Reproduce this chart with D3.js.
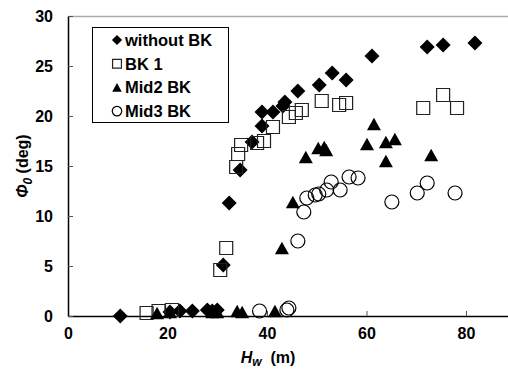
<!DOCTYPE html>
<html>
<head>
<meta charset="utf-8">
<script src="https://cdn.jsdelivr.net/npm/d3@7"></script>
<style>
  body { margin: 0; background: #fff; }
  text { font-family: "Liberation Sans", Arial, sans-serif; font-weight: bold; }
</style>
</head>
<body>
<div id="svgRoot"></div>
<script>
// series
var seriesNames = ["without BK", "BK 1", "Mid2 BK", "Mid3 BK"];

var withoutX = [10.5, 20.5, 22.5, 25, 28, 29, 30, 31.2, 32.4, 34.6, 37, 39, 39, 41.2, 43.2, 43.6, 46.2, 50.5, 53.1, 55.9, 61.1, 72.2, 75.4, 81.8];
var withoutY = [0, 0.4, 0.5, 0.5, 0.6, 0.5, 0.6, 5.1, 11.3, 14.6, 17.4, 19, 20.4, 20.4, 21, 21.4, 22.5, 23.1, 24.3, 23.6, 26, 26.9, 27.1, 27.3];

var bk1X = [15.8, 18.2, 20.9, 30.6, 31.8, 33.8, 34.2, 34.8, 38, 39.4, 41.2, 44.4, 45.8, 47, 51, 54.5, 55.9, 71.4, 75.4, 78.2];
var bk1Y = [0.3, 0.5, 0.6, 4.6, 6.8, 14.9, 16.2, 17.1, 17.3, 17.5, 18.9, 19.9, 20.3, 20.6, 21.5, 21.1, 21.3, 20.8, 22.1, 20.8];

var mid2X = [17.9, 20.5, 29, 30, 34, 35, 41.6, 43, 45.2, 47.8, 50.3, 51.5, 51.9, 60.1, 61.5, 63.9, 65.7, 63.9, 73];
var mid2Y = [0.3, 0.4, 0.4, 0.4, 0.5, 0.4, 0.5, 6.8, 11.4, 15.9, 16.8, 16.9, 16.6, 17.2, 19.2, 17.4, 17.7, 15.5, 16.1];

var mid3X = [38.5, 44, 44.4, 46.2, 47.4, 48, 49.7, 50.4, 52, 52.9, 54.7, 56.5, 58.3, 65.1, 70.2, 72.2, 77.8];
var mid3Y = [0.5, 0.6, 0.8, 7.5, 10.4, 11.8, 12.1, 12.2, 12.6, 13.4, 12.6, 13.9, 13.8, 11.4, 12.3, 13.3, 12.3];

var xTicks = [0, 20, 40, 60, 80];
var yTicks = [0, 5, 10, 15, 20, 25, 30];

var W = 508, H = 370;
var plotLeft = 68, plotTop = 16, plotBottom = 316;

var svg = d3.select("#svgRoot").append("svg")
  .attr("width", W).attr("height", H);

var x = d3.scaleLinear().domain([0, 90]).range([plotLeft, plotLeft + 90 * 4.975]);
var y = d3.scaleLinear().domain([0, 30]).range([plotBottom, plotTop]);

// marker shapes
function diamond(r) { return "M0," + (-r) + "L" + r + ",0L0," + r + "L" + (-r) + ",0Z"; }
function square(r) { return "M" + (-r) + "," + (-r) + "h" + 2 * r + "v" + 2 * r + "h" + (-2 * r) + "Z"; }
function triangle(r) { return "M0," + (-r * 0.9) + "L" + r + "," + r * 0.9 + "L" + (-r) + "," + r * 0.9 + "Z"; }

var styles = [
  { path: diamond, r: 7.5, fill: "#000", stroke: "none" },
  { path: square, r: 6.5, fill: "none", stroke: "#222" },
  { path: triangle, r: 7, fill: "#000", stroke: "none" },
  { path: null, r: 7, fill: "none", stroke: "#000" }
];

function drawMark(g, s, px, py, scale) {
  if (s.path) {
    g.append("path")
      .attr("d", s.path(s.r * scale))
      .attr("transform", "translate(" + px + "," + py + ")")
      .attr("fill", s.fill).attr("stroke", s.stroke).attr("stroke-width", 1.2);
  } else {
    g.append("circle")
      .attr("cx", px).attr("cy", py).attr("r", s.r * scale)
      .attr("fill", s.fill).attr("stroke", s.stroke).attr("stroke-width", 1.2);
  }
}

// frame: top line gray, axes black
svg.append("line")
  .attr("x1", plotLeft).attr("x2", W).attr("y1", plotTop + 0.5).attr("y2", plotTop + 0.5)
  .attr("stroke", "#aaa").attr("stroke-width", 1.5);

var xAxis = svg.append("g")
  .attr("transform", "translate(0," + plotBottom + ")")
  .call(d3.axisBottom(x).tickValues(xTicks).tickSize(-5).tickSizeOuter(0).tickPadding(12));
xAxis.select(".domain").attr("stroke", "#000").attr("stroke-width", 1.5);
xAxis.selectAll("line").attr("stroke", "#555");
xAxis.selectAll("text").attr("font-size", 16).attr("font-weight", "bold").attr("fill", "#000")
  .attr("font-family", "Liberation Sans, Arial, sans-serif");

var yAxis = svg.append("g")
  .attr("transform", "translate(" + plotLeft + ",0)")
  .call(d3.axisLeft(y).tickValues(yTicks).tickSize(-5).tickSizeOuter(0).tickPadding(15));
yAxis.select(".domain").attr("stroke", "#000").attr("stroke-width", 1.5);
yAxis.selectAll("line").attr("stroke", "#555");
yAxis.selectAll("text").attr("font-size", 16).attr("font-weight", "bold").attr("fill", "#000")
  .attr("font-family", "Liberation Sans, Arial, sans-serif");

// points
var allX = [withoutX, bk1X, mid2X, mid3X];
var allY = [withoutY, bk1Y, mid2Y, mid3Y];
var pts = svg.append("g");
allX.forEach(function (xs, k) {
  xs.forEach(function (v, i) {
    drawMark(pts, styles[k], x(v), y(allY[k][i]), 1);
  });
});

// legend
var lg = svg.append("g");
lg.append("rect")
  .attr("x", 92.5).attr("y", 27.5).attr("width", 136).attr("height", 95)
  .attr("fill", "#fff").attr("stroke", "#000").attr("stroke-width", 1);
seriesNames.forEach(function (name, k) {
  var cy = 40 + k * 23.7;
  drawMark(lg, styles[k], 117, cy, 0.68);
  lg.append("text")
    .attr("x", 125).attr("y", cy + 6)
    .attr("font-size", 16.5)
    .text(name);
});

// axis titles
var xt = svg.append("text")
  .attr("x", 268).attr("y", 363)
  .attr("text-anchor", "middle")
  .attr("font-size", 16);
xt.append("tspan").attr("font-style", "italic").text("H");
xt.append("tspan").attr("font-style", "italic").attr("font-size", 12).attr("dy", 3).text("w");
xt.append("tspan").attr("dy", -3).text("\u00a0 (m)");

var yt = svg.append("text")
  .attr("transform", "translate(28,166) rotate(-90)")
  .attr("text-anchor", "middle")
  .attr("font-size", 16);
yt.append("tspan").attr("font-style", "italic").text("\u03a6");
yt.append("tspan").attr("font-style", "italic").attr("font-size", 12).attr("dy", 4).text("0");
yt.append("tspan").attr("dy", -4).text(" (deg)");
</script>
</body>
</html>
